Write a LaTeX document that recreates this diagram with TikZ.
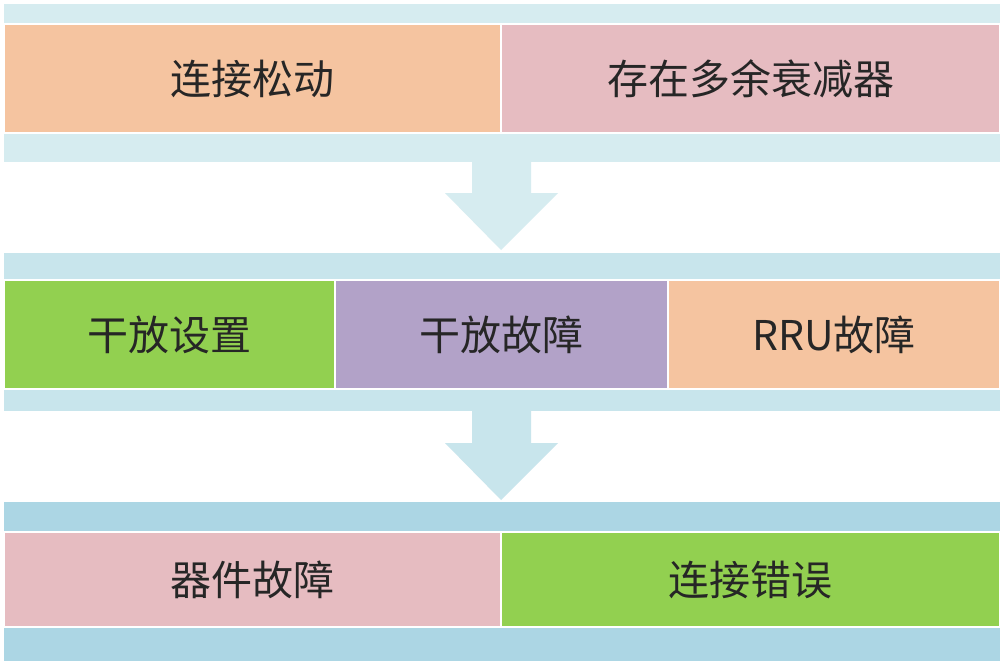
\documentclass[tikz,border=0pt]{standalone}
\usepackage{fontspec}
\setmainfont{Noto Sans CJK SC}
\begin{document}
\begin{tikzpicture}[x=1pt,y=-1pt,
 bar/.style={fill=#1,draw=none},
 box/.style={draw=white,line width=1.5pt,fill=#1},
 lbl/.style={font=\fontsize{41}{46}\selectfont,text=black!85},
 arr/.style={fill=#1,draw=none}]
\definecolor{bl1}{RGB}{214,236,240}
\definecolor{bl2}{RGB}{200,229,236}
\definecolor{bl3}{RGB}{172,214,228}
\definecolor{ora}{RGB}{245,196,160}
\definecolor{pnk}{RGB}{230,188,193}
\definecolor{grn}{RGB}{146,208,80}
\definecolor{pur}{RGB}{178,162,200}
\useasboundingbox[fill=white] (0,0) rectangle (1004,669);
% band 1
\fill[bar=bl1] (4,4) rectangle (1000,162);
\draw[box=ora] (4,24) rectangle node[lbl] (a1) {连接松动} (501,133);
\draw[box=pnk] (501,24) rectangle node[lbl] (a2) {存在多余衰减器} (1000,133);
% arrow 1
\fill[arr=bl1] (472,162) -- (531,162) -- (531,193) -- (558,193) -- (501,250) -- (445,193) -- (472,193) -- cycle;
% band 2
\fill[bar=bl2] (4,253) rectangle (1000,411);
\draw[box=grn] (4,280) rectangle node[lbl] (b1) {干放设置} (335,389);
\draw[box=pur] (335,280) rectangle node[lbl] (b2) {干放故障} (668,389);
\draw[box=ora] (668,280) rectangle node[lbl] (b3) {RRU故障} (1000,389);
% arrow 2
\fill[arr=bl2] (472,411) -- (531,411) -- (531,443) -- (558,443) -- (501,500) -- (445,443) -- (472,443) -- cycle;
% band 3
\fill[bar=bl3] (4,502) rectangle (1000,661);
\draw[box=pnk] (4,532) rectangle node[lbl] (c1) {器件故障} (501,627);
\draw[box=grn] (501,532) rectangle node[lbl] (c2) {连接错误} (1000,627);
\end{tikzpicture}
\end{document}
